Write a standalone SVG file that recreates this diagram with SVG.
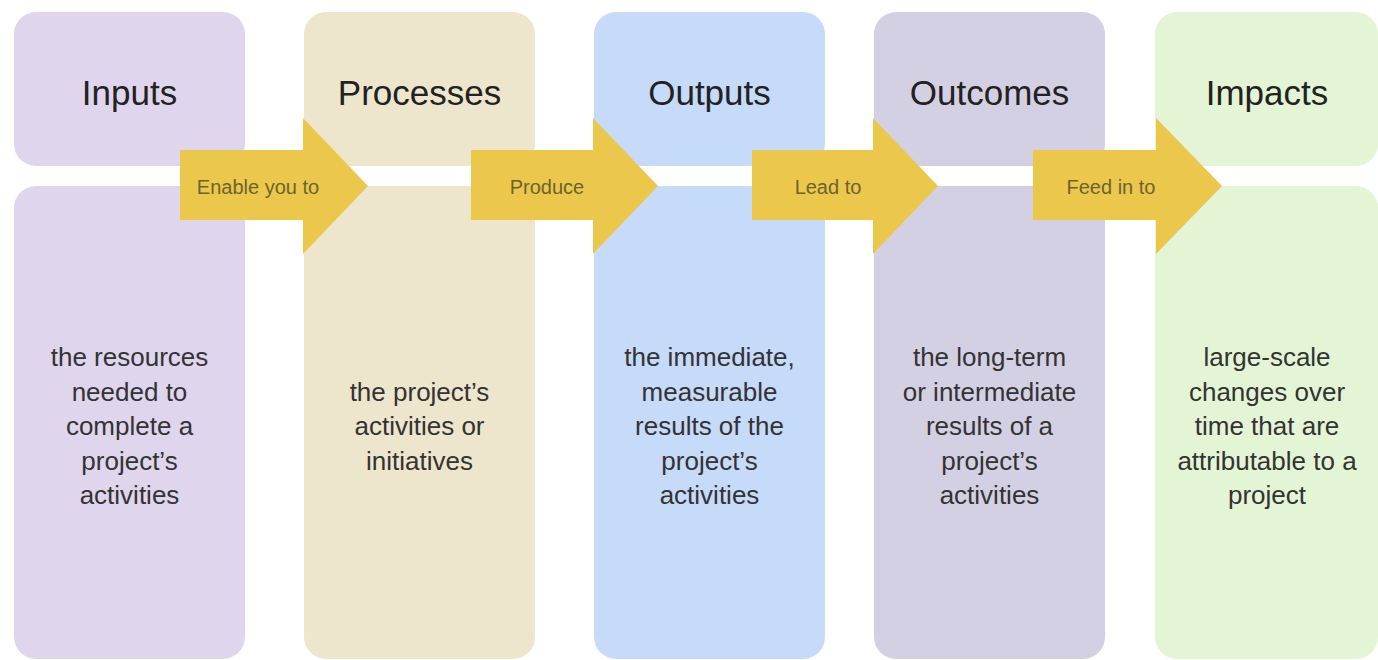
<svg xmlns="http://www.w3.org/2000/svg" width="1378" height="660" viewBox="0 0 1378 660">
<style>
.title{font-family:"Liberation Sans",Arial,sans-serif;font-size:35px;fill:#222;text-anchor:middle}
.body{font-family:"Liberation Sans",Arial,sans-serif;font-size:26px;fill:#333;text-anchor:middle}
.lbl{font-family:"Liberation Sans",Arial,sans-serif;font-size:20px;fill:#6e6230;text-anchor:middle}
.arrow{fill:#ebc84b}
</style>
<rect width="1378" height="660" fill="#ffffff"/>
<g id="inputs">
<rect x="14" y="12" width="231" height="154" rx="22" fill="#dfd6ee"/>
<rect x="14" y="186" width="231" height="473" rx="22" fill="#dfd6ee"/>
<text class="title" x="129.5" y="105">Inputs</text>
<text class="body" x="129.5" y="366">the resources</text>
<text class="body" x="129.5" y="400.5">needed to</text>
<text class="body" x="129.5" y="435">complete a</text>
<text class="body" x="129.5" y="469.5">project’s</text>
<text class="body" x="129.5" y="504">activities</text>
</g>
<g id="processes">
<rect x="304" y="12" width="231" height="154" rx="22" fill="#ede6cd"/>
<rect x="304" y="186" width="231" height="473" rx="22" fill="#ede6cd"/>
<text class="title" x="419.5" y="105">Processes</text>
<text class="body" x="419.5" y="400.5">the project’s</text>
<text class="body" x="419.5" y="435">activities or</text>
<text class="body" x="419.5" y="469.5">initiatives</text>
</g>
<g id="outputs">
<rect x="594" y="12" width="231" height="154" rx="22" fill="#c6dafa"/>
<rect x="594" y="186" width="231" height="473" rx="22" fill="#c6dafa"/>
<text class="title" x="709.5" y="105">Outputs</text>
<text class="body" x="709.5" y="366">the immediate,</text>
<text class="body" x="709.5" y="400.5">measurable</text>
<text class="body" x="709.5" y="435">results of the</text>
<text class="body" x="709.5" y="469.5">project’s</text>
<text class="body" x="709.5" y="504">activities</text>
</g>
<g id="outcomes">
<rect x="874" y="12" width="231" height="154" rx="22" fill="#d4d0e3"/>
<rect x="874" y="186" width="231" height="473" rx="22" fill="#d4d0e3"/>
<text class="title" x="989.5" y="105">Outcomes</text>
<text class="body" x="989.5" y="366">the long-term</text>
<text class="body" x="989.5" y="400.5">or intermediate</text>
<text class="body" x="989.5" y="435">results of a</text>
<text class="body" x="989.5" y="469.5">project’s</text>
<text class="body" x="989.5" y="504">activities</text>
</g>
<g id="impacts">
<rect x="1155" y="12" width="223" height="154" rx="22" fill="#e4f5d6"/>
<rect x="1155" y="186" width="223" height="473" rx="22" fill="#e4f5d6"/>
<text class="title" x="1267" y="105">Impacts</text>
<text class="body" x="1267" y="366">large-scale</text>
<text class="body" x="1267" y="400.5">changes over</text>
<text class="body" x="1267" y="435">time that are</text>
<text class="body" x="1267" y="469.5">attributable to a</text>
<text class="body" x="1267" y="504">project</text>
</g>
<g id="connectors">
<polygon class="arrow" points="180,150 303,150 303,118 368,186 303,254 303,220 180,220"/>
<text class="lbl" x="258" y="194">Enable you to</text>
<polygon class="arrow" points="471,150 593,150 593,118 658,186 593,254 593,220 471,220"/>
<text class="lbl" x="547" y="194">Produce</text>
<polygon class="arrow" points="752,150 873,150 873,118 938,186 873,254 873,220 752,220"/>
<text class="lbl" x="828" y="194">Lead to</text>
<polygon class="arrow" points="1033,150 1156,150 1156,118 1222,186 1156,254 1156,220 1033,220"/>
<text class="lbl" x="1111" y="194">Feed in to</text>
</g>
</svg>
